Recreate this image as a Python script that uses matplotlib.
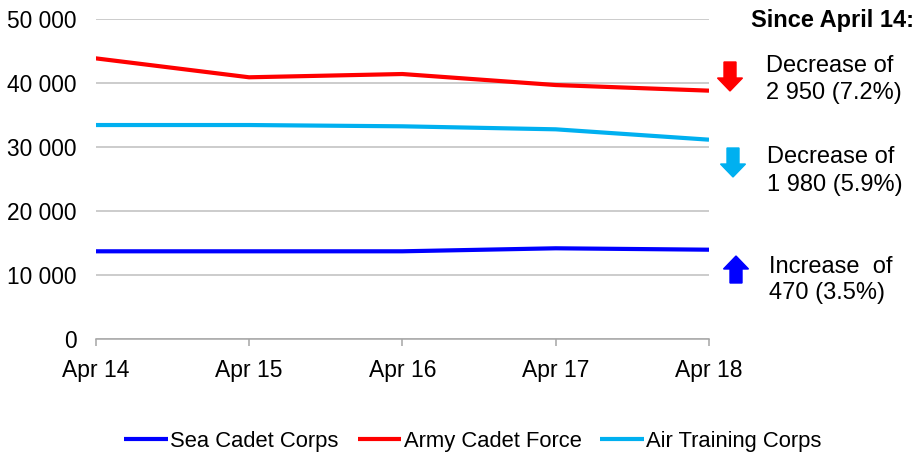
import matplotlib
matplotlib.use('Agg')
import matplotlib.pyplot as plt
from matplotlib.patches import Polygon
from matplotlib.ticker import FuncFormatter

plt.rcParams['font.family'] = ['Liberation Sans', 'DejaVu Sans']

years = ['Apr 14', 'Apr 15', 'Apr 16', 'Apr 17', 'Apr 18']
sea = [13750, 13750, 13750, 14220, 14000]
army = [43900, 40940, 41450, 39730, 38850]
air = [33480, 33480, 33280, 32810, 31190]

series = [
    ('Sea Cadet Corps', sea, '#0000FF'),
    ('Army Cadet Force', army, '#FF0000'),
    ('Air Training Corps', air, '#00B0F0'),
]

notes = [
    ('Decrease of', '2 950 (7.2%)', '#FF0000', 'down'),
    ('Decrease of', '1 980 (5.9%)', '#00B0F0', 'down'),
    ('Increase  of', '470 (3.5%)', '#0000FF', 'up'),
]

W, H = 915, 457
fig = plt.figure(figsize=(W / 100, H / 100), dpi=100)
ax = fig.add_axes([95.7 / W, 1 - 339.3 / H, (709 - 95.7) / W, (339.3 - 19.3) / H])

x = list(range(len(years)))
for name, vals, col in series:
    ax.plot(x, vals, color=col, lw=3, label=name, solid_capstyle='butt')

ax.set_xlim(0, len(years) - 1)
ax.set_ylim(0, 50000)
ax.set_yticks(range(0, 50001, 10000))
ax.yaxis.set_major_formatter(FuncFormatter(lambda v, p: f'{int(v):,}'.replace(',', ' ')))
ax.set_xticks(x)
ax.set_xticklabels(years)
ax.grid(axis='y', color='#BFBFBF', lw=1.1)
ax.set_axisbelow(True)
for s in ['left', 'right', 'top']:
    ax.spines[s].set_visible(False)
ax.spines['bottom'].set_color('#A6A6A6')
ax.spines['bottom'].set_linewidth(1.1)
ax.tick_params(axis='y', length=0, pad=14, labelsize=16.4)
ax.tick_params(axis='x', length=5, width=1.1, color='#A6A6A6', pad=9, labelsize=16.5)

ax.legend(loc='center', bbox_to_anchor=(473 / W, 1 - 441 / H), bbox_transform=fig.transFigure,
          ncol=3, frameon=False, fontsize=15.8, handlelength=2.0, handletextpad=0.1,
          columnspacing=0.85)


def px(xp, yp):
    return (xp / W, 1 - yp / H)


def arrow(cx, top, bot, col, direction):
    hw, sw, hl = 12.5, 6, 13
    if direction == 'down':
        pts = [(cx - sw, top), (cx + sw, top), (cx + sw, bot - hl), (cx + hw, bot - hl),
               (cx, bot), (cx - hw, bot - hl), (cx - sw, bot - hl)]
    else:
        pts = [(cx - sw, bot), (cx + sw, bot), (cx + sw, top + hl), (cx + hw, top + hl),
               (cx, top), (cx - hw, top + hl), (cx - sw, top + hl)]
    fig.patches.append(Polygon([px(a, b) for a, b in pts], closed=True, color=col,
                               transform=fig.transFigure, figure=fig))


fig.text(*px(914, 27), 'Since April 14:', ha='right', va='baseline',
         fontsize=17, fontweight='bold')

arrow_pos = [(730, 62, 91), (733, 148, 177), (736, 256, 283)]
text_pos = [(766, 72, 99), (767, 163, 191), (769, 273, 299)]
for (l1, l2, col, d), (ax_, t, b), (tx, y1, y2) in zip(notes, arrow_pos, text_pos):
    arrow(ax_, t, b, col, d)
    fig.text(*px(tx, y1), l1, ha='left', va='baseline', fontsize=17)
    fig.text(*px(tx, y2), l2, ha='left', va='baseline', fontsize=17)

fig.savefig('out.png', dpi=100)
